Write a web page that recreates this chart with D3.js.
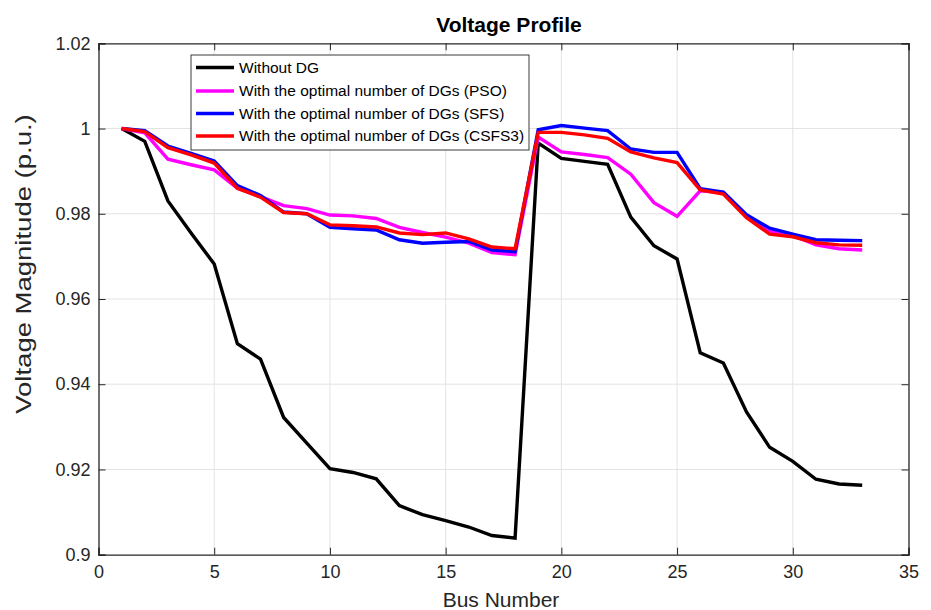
<!DOCTYPE html>
<html>
<head>
<meta charset="utf-8">
<script src="https://cdn.jsdelivr.net/npm/d3@7/dist/d3.min.js"></script>
<style>
  html, body { margin: 0; padding: 0; background: #fff; }
  svg { display: block; font-family: "Liberation Sans", Arial, Helvetica, sans-serif; }
</style>
</head>
<body>
<svg id="chart" width="931" height="610"></svg>
<script>
// Bus numbers of the 33-bus feeder
const buses = d3.range(1, 34);

// Voltage magnitudes (p.u.) per bus
const withoutDG = [1.0000, 0.9970, 0.9830, 0.9755, 0.9682, 0.9495, 0.9459, 0.9322, 0.9262, 0.9202,
  0.9193, 0.9178, 0.9115, 0.9094, 0.9080, 0.9065, 0.9045, 0.9039, 0.9966, 0.9930,
  0.9923, 0.9916, 0.9792, 0.9725, 0.9694, 0.9474, 0.9450, 0.9335, 0.9252, 0.9219,
  0.9177, 0.9166, 0.9163];
const psoDG = [1.0000, 0.9990, 0.9928, 0.9915, 0.9903, 0.9860, 0.9840, 0.9819, 0.9812, 0.9797,
  0.9795, 0.9789, 0.9768, 0.9756, 0.9745, 0.9731, 0.9709, 0.9704, 0.9980, 0.9945,
  0.9939, 0.9932, 0.9893, 0.9826, 0.9794, 0.9854, 0.9850, 0.9795, 0.9760, 0.9749,
  0.9727, 0.9718, 0.9715];
const sfsDG = [1.0000, 0.9995, 0.9959, 0.9942, 0.9924, 0.9866, 0.9843, 0.9804, 0.9800, 0.9768,
  0.9765, 0.9762, 0.9739, 0.9731, 0.9733, 0.9735, 0.9715, 0.9711, 0.9997, 1.0007,
  1.0001, 0.9995, 0.9952, 0.9944, 0.9944, 0.9859, 0.9851, 0.9798, 0.9766, 0.9752,
  0.9739, 0.9738, 0.9737];
const csfs3DG = [1.0000, 0.9993, 0.9955, 0.9938, 0.9919, 0.9860, 0.9839, 0.9803, 0.9800, 0.9774,
  0.9772, 0.9769, 0.9755, 0.9751, 0.9755, 0.9741, 0.9722, 0.9718, 0.9991, 0.9991,
  0.9985, 0.9977, 0.9945, 0.9931, 0.9920, 0.9856, 0.9846, 0.9791, 0.9752, 0.9746,
  0.9732, 0.9727, 0.9726];

// Axis ticks
const xTicks = [0, 5, 10, 15, 20, 25, 30, 35];
const yTicks = [0.9, 0.92, 0.94, 0.96, 0.98, 1.0, 1.02];
const yTickLabels = ["0.9", "0.92", "0.94", "0.96", "0.98", "1", "1.02"];

const seriesNames = [
  "Without DG",
  "With the optimal number of DGs (PSO)",
  "With the optimal number of DGs (SFS)",
  "With the optimal number of DGs (CSFS3)"
];
const seriesValues = [withoutDG, psoDG, sfsDG, csfs3DG];
const seriesColors = ["#000000", "#ff00ff", "#0000ff", "#ff0000"];

const svg = d3.select("#chart");
const W = 931, H = 610;
const margin = { left: 98.5, right: W - 908.5, top: 43.3, bottom: H - 554.7 };
const plotW = W - margin.left - margin.right;
const plotH = H - margin.top - margin.bottom;

const x = d3.scaleLinear().domain([0, 35]).range([margin.left, margin.left + plotW]);
const y = d3.scaleLinear().domain([0.9, 1.02]).range([margin.top + plotH, margin.top]);

const axisColor = "#262626";

// Grid
const grid = svg.append("g");
grid.selectAll("line.gx").data(xTicks.slice(1, -1)).join("line")
  .attr("x1", d => x(d)).attr("x2", d => x(d))
  .attr("y1", margin.top).attr("y2", margin.top + plotH)
  .attr("stroke", "#e3e3e3").attr("stroke-width", 1);
grid.selectAll("line.gy").data(yTicks.slice(1, -1)).join("line")
  .attr("y1", d => y(d)).attr("y2", d => y(d))
  .attr("x1", margin.left).attr("x2", margin.left + plotW)
  .attr("stroke", "#e3e3e3").attr("stroke-width", 1);

// Series lines
const line = d3.line().x((d, i) => x(buses[i])).y(d => y(d));
svg.append("g").selectAll("path").data(seriesValues).join("path")
  .attr("d", d => line(d))
  .attr("fill", "none")
  .attr("stroke", (d, i) => seriesColors[i])
  .attr("stroke-width", 3.4)
  .attr("stroke-linejoin", "miter")
  .attr("stroke-miterlimit", 3);

// Axes (ticks pointing inward, box on all sides)
const tickLen = 7;
const bottomAxis = svg.append("g")
  .attr("transform", `translate(0,${margin.top + plotH})`)
  .call(d3.axisBottom(x).tickValues(xTicks).tickSize(-tickLen).tickPadding(10.5).tickFormat(d3.format("d")));
const topAxis = svg.append("g")
  .attr("transform", `translate(0,${margin.top})`)
  .call(d3.axisTop(x).tickValues(xTicks).tickSize(-tickLen).tickFormat(""));
const leftAxis = svg.append("g")
  .attr("transform", `translate(${margin.left},0)`)
  .call(d3.axisLeft(y).tickValues(yTicks).tickSize(-tickLen).tickPadding(8)
    .tickFormat((d, i) => yTickLabels[i]));
const rightAxis = svg.append("g")
  .attr("transform", `translate(${margin.left + plotW},0)`)
  .call(d3.axisRight(y).tickValues(yTicks).tickSize(-tickLen).tickFormat(""));

[bottomAxis, topAxis, leftAxis, rightAxis].forEach(g => {
  g.select(".domain").attr("stroke", axisColor).attr("stroke-width", 1.3);
  g.selectAll(".tick line").attr("stroke", axisColor).attr("stroke-width", 1);
  g.selectAll(".tick text").attr("fill", axisColor)
    .style("font-size", "18px").style("font-family", "'Liberation Sans', Arial, sans-serif");
});

// Title and axis labels
svg.append("text")
  .attr("x", 509).attr("y", 32)
  .attr("text-anchor", "middle")
  .style("font-size", "21px").style("font-weight", "bold")
  .attr("fill", "#000")
  .text("Voltage Profile");

svg.append("text")
  .attr("x", 501).attr("y", 607)
  .attr("text-anchor", "middle")
  .style("font-size", "21px")
  .attr("fill", axisColor)
  .text("Bus Number");

// Y label: rotated, slightly widened along its run
svg.append("text")
  .attr("transform", "translate(31,264) rotate(-90) scale(1.25,1)")
  .attr("text-anchor", "middle")
  .style("font-size", "22px")
  .attr("fill", axisColor)
  .text("Voltage Magnitude (p.u.)");

// Legend
const legend = svg.append("g").attr("transform", "translate(191,55)");
legend.append("rect")
  .attr("width", 338).attr("height", 95)
  .attr("fill", "#fff").attr("stroke", "#262626").attr("stroke-width", 0.9);
const rowY = [12.5, 36, 58.5, 81];
const rows = legend.selectAll("g.row").data(seriesNames).join("g")
  .attr("transform", (d, i) => `translate(0,${rowY[i]})`);
rows.append("line")
  .attr("x1", 5).attr("x2", 43).attr("y1", 0).attr("y2", 0)
  .attr("stroke", (d, i) => seriesColors[i]).attr("stroke-width", 3.4);
rows.append("text")
  .attr("x", 48).attr("y", 0).attr("dy", "0.35em")
  .style("font-size", "15.5px")
  .attr("fill", "#000")
  .text(d => d);
</script>
</body>
</html>
